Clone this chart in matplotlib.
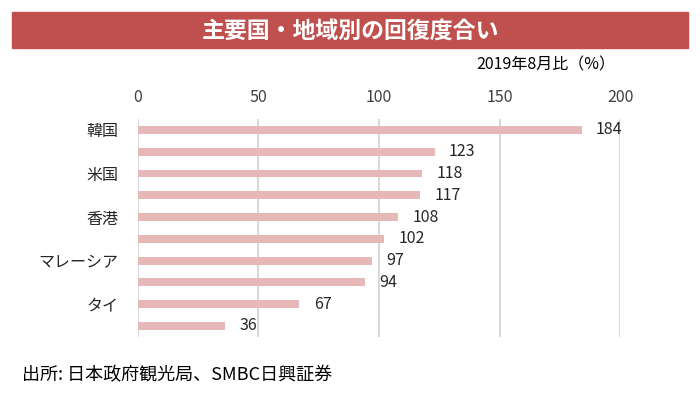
import matplotlib
matplotlib.use("Agg")
import matplotlib.pyplot as plt
from matplotlib.patches import Rectangle

plt.rcParams['font.family'] = ['Noto Sans CJK JP', 'DejaVu Sans']

# data
categories = ['韓国', '', '米国', '', '香港', '', 'マレーシア', '', 'タイ', '']
values = [184, 123, 118, 117, 108, 102, 97, 94, 67, 36]
xticks = [0, 50, 100, 150, 200]

fig = plt.figure(figsize=(7, 3.94), dpi=100)
ax = fig.add_axes([0.197, 0.145, 0.689, 0.553])

pos = list(range(len(values)))
ax.barh(pos, values, height=0.36, color='#E6B9B8', zorder=3)
for p, v in zip(pos, values):
    ax.text(v + 6, p, str(v), va='center', ha='left', fontsize=11.5, color='#262626')

ax.set_ylim(len(values) - 0.5, -0.5)
ax.set_xlim(0, 200)
ax.set_yticks(pos)
ax.set_yticklabels(categories, fontsize=11.5, color='#262626')
ax.set_xticks(xticks)
ax.xaxis.tick_top()
ax.tick_params(axis='x', labelsize=11.5, colors='#404040', length=0, pad=9)
ax.tick_params(axis='y', length=0, pad=14)
ax.grid(axis='x', color='#D9D9D9', linewidth=1.5, zorder=0)
for s in ax.spines.values():
    s.set_visible(False)

# title bar
fig.patches.append(Rectangle((12 / 700, 1 - 48 / 394), 676 / 700, 36 / 394,
                             transform=fig.transFigure, color='#C0504D', zorder=0))
fig.text(0.5, 1 - 31 / 394, '主要国・地域別の回復度合い', ha='center', va='center',
         color='white', fontsize=16.5, fontweight='bold')
fig.text(615 / 700, 1 - 65 / 394, '2019年8月比（%）', ha='right', va='center',
         fontsize=11.5, color='black')
fig.text(22 / 700, 1 - 375 / 394, '出所: 日本政府観光局、SMBC日興証券', ha='left', va='center',
         fontsize=13, color='black')

fig.savefig('out.png', dpi=100)
